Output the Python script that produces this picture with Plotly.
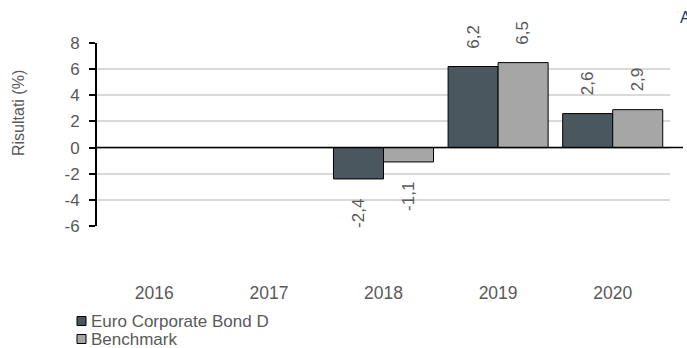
import plotly.graph_objects as go

# Annual returns (%) of the fund and its benchmark
years = ["2016", "2017", "2018", "2019", "2020"]
fund_name = "Euro Corporate Bond D"
bench_name = "Benchmark"
fund_returns = [None, None, -2.4, 6.2, 2.6]
bench_returns = [None, None, -1.1, 6.5, 2.9]
y_ticks = [-6, -4, -2, 0, 2, 4, 6, 8]

FUND_COLOR = "#4a575e"
BENCH_COLOR = "#a6a6a6"
TEXT_COLOR = "#595959"
FONT = "Liberation Sans, Arial, sans-serif"

W, H = 687, 348
L, R, T, B = 97, 17, 43, 122
PW, PH = W - L - R, H - T - B


def px(x):
    """Horizontal pixel position -> paper coordinate."""
    return (x - L) / PW


def py(y):
    """Vertical pixel position (from top) -> paper coordinate."""
    return (H - B - y) / PH


def fmt(v):
    return f"{v:.1f}".replace(".", ",")


label_font = dict(family=FONT, size=17, color=TEXT_COLOR)

fig = go.Figure()
series = [(fund_name, fund_returns, FUND_COLOR, -25),
          (bench_name, bench_returns, BENCH_COLOR, 25)]
for name, values, color, shift in series:
    fig.add_trace(go.Bar(
        x=years, y=values, name=name,
        marker=dict(color=color, line=dict(color="#000000", width=1)),
        showlegend=False,
    ))
    # value labels, rotated, just beyond the end of each bar
    # (category axes place annotations by category index)
    for idx, v in enumerate(values):
        if v is None:
            continue
        fig.add_annotation(
            x=idx, y=v, xref="x", yref="y", text=fmt(v), showarrow=False,
            textangle=-90, xshift=shift,
            yanchor="bottom" if v >= 0 else "top",
            yshift=16 if v >= 0 else -18,
            font=label_font,
        )

# horizontal category axis crossing at zero
fig.add_shape(type="line", xref="paper", yref="y", x0=0, x1=px(683), y0=0, y1=0,
              line=dict(color="#000000", width=1.5))

# legend: small bordered swatches followed by the series names
for i, (name, _, color, _) in enumerate(series):
    cy = 321 + 18 * i
    fig.add_shape(type="rect", xref="paper", yref="paper",
                  x0=px(77), x1=px(86), y0=py(cy - 4.5), y1=py(cy + 4.5),
                  fillcolor=color, line=dict(color="#000000", width=1))
    fig.add_annotation(text=name, xref="paper", yref="paper", x=px(89), y=py(cy),
                       xanchor="left", yanchor="middle", showarrow=False,
                       font=label_font)

# axis title
fig.add_annotation(text="Risultati (%)", xref="paper", yref="paper",
                   x=px(18), y=py(113), textangle=-90, showarrow=False,
                   xanchor="center", yanchor="middle",
                   font=dict(family=FONT, size=16, color=TEXT_COLOR))

# partially clipped header glyph in the top-right corner
fig.add_annotation(text="A", xref="paper", yref="paper", x=px(678), y=py(17),
                   showarrow=False, xanchor="left", yanchor="middle",
                   font=dict(family=FONT, size=16, color="#1f3864"))

fig.update_layout(
    width=W, height=H,
    margin=dict(l=L, r=R, t=T, b=B, pad=0, autoexpand=False),
    paper_bgcolor="#ffffff", plot_bgcolor="#ffffff",
    barmode="group", bargap=0.127, bargroupgap=0,
    font=label_font,
    showlegend=False,
    xaxis=dict(type="category", categoryorder="array", categoryarray=years,
               range=[-0.5, len(years) - 0.5],
               showgrid=False, showline=False, ticks="", zeroline=False,
               tickfont=dict(family=FONT, size=17.5, color=TEXT_COLOR),
               ticklabelstandoff=54, automargin=False),
    yaxis=dict(range=[-6, 8], tickvals=y_ticks, ticktext=[str(v) for v in y_ticks],
               showgrid=True, gridcolor="#d9d9d9", gridwidth=2, zeroline=False,
               showline=True, linecolor="#000000", linewidth=2,
               ticks="outside", ticklen=6, tickwidth=2, tickcolor="#000000",
               tickfont=label_font, ticklabelstandoff=6, automargin=False),
)

fig.write_html("out.html")
